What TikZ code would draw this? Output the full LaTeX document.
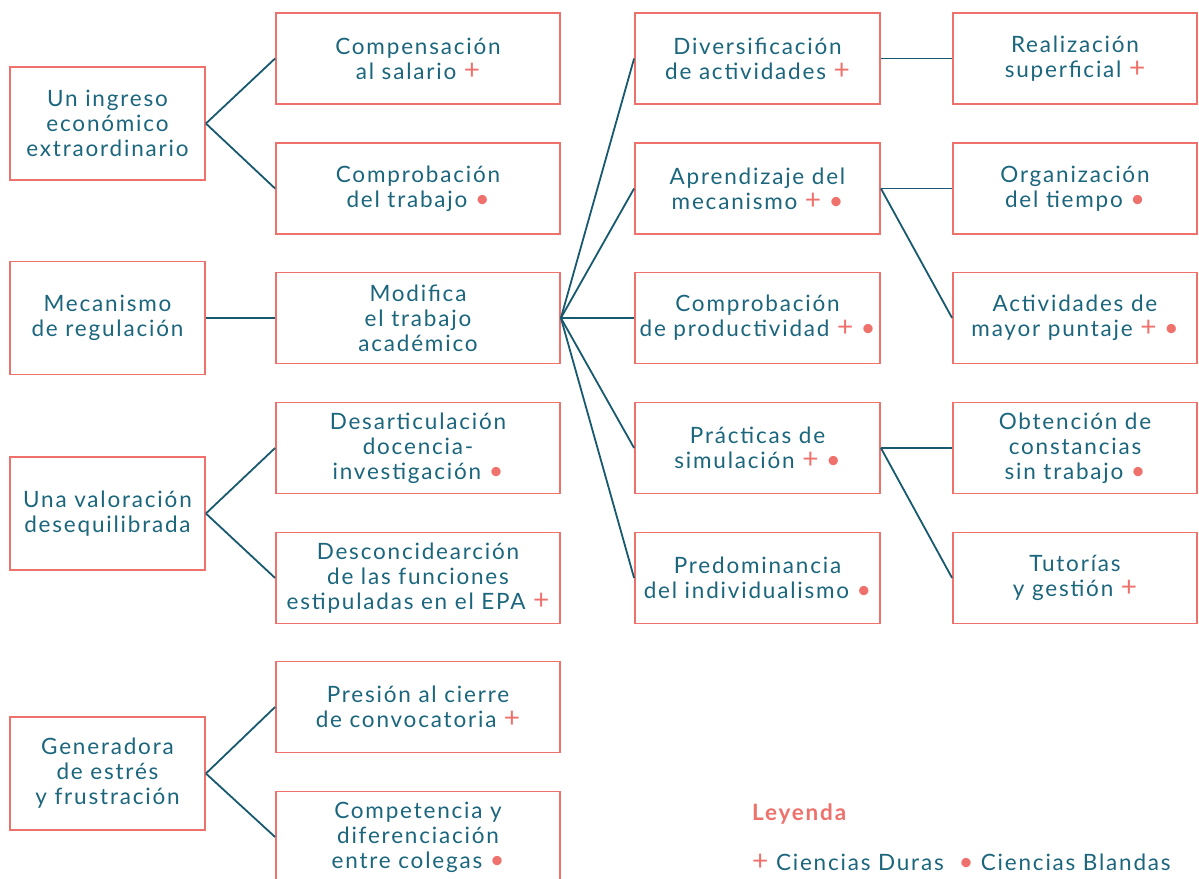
\documentclass[tikz,border=0pt]{standalone}
\usepackage{fontspec}
\setmainfont{Lato}[LetterSpace=8]
\definecolor{boxred}{HTML}{EE716C}
\definecolor{tealtxt}{HTML}{1B667D}
\definecolor{teallin}{HTML}{175A70}
\newcommand{\dur}{{\color{boxred}\fontsize{28}{25}\selectfont+}}
\newcommand{\bla}{{\color{boxred}\fontsize{25}{25}\selectfont•}}
\tikzset{
  cajon/.style={draw=boxred, line width=1.8pt, inner sep=0pt, align=center,
    text=tealtxt, font=\fontsize{22.5}{25}\selectfont, minimum height=91pt},
  izq/.style={cajon, minimum width=195pt, minimum height=113pt},
  col2/.style={cajon, minimum width=284pt},
  col3/.style={cajon, minimum width=245pt},
  col4/.style={cajon, minimum width=244pt},
  enlace/.style={draw=teallin, line width=1.8pt}
}
\begin{document}
\begin{tikzpicture}[x=1pt,y=-1pt]
        \useasboundingbox (0,0) rectangle (1199,878);
        \clip (0,0) rectangle (1199,878);

        % left column
        \node[izq] (ingreso) at (107.5,123.5) {Un ingreso\\económico\\extraordinario};
        \node[izq] (mecanismo) at (107.5,318) {Mecanismo\\de regulación};
        \node[izq] (valoracion) at (107.5,513.5) {Una valoración\\desequilibrada};
        \node[izq] (estres) at (107.5,773.5) {Generadora\\de estrés\\y frustración};

        % second column
        \node[col2] (compensa) at (418,58.5) {Compensación\\al salario \dur};
        \node[col2] (comprueba) at (418,188.5) {Comprobación\\del trabajo \bla};
        \node[col2] (modifica) at (418,318) {Modifica\\el trabajo\\académico};
        \node[col2] (desartic) at (418,448) {Desarticulación\\docencia-\\investigación \bla};
        \node[col2] (desconc) at (418,578) {Desconcidearción\\de las funciones\\estipuladas en el EPA \dur};
        \node[col2] (presion) at (418,707) {Presión al cierre\\de convocatoria \dur};
        \node[col2] (competencia) at (418,837) {Competencia y\\diferenciación\\entre colegas \bla};

        % third column
        \node[col3] (diversi) at (757.5,58.5) {Diversificación\\de actividades \dur};
        \node[col3] (aprende) at (757.5,188.5) {Aprendizaje del\\mecanismo \dur{} \bla};
        \node[col3] (producti) at (757.5,318) {Comprobación\\de productividad \dur{} \bla};
        \node[col3] (simula) at (757.5,448) {Prácticas de\\simulación \dur{} \bla};
        \node[col3] (individ) at (757.5,578) {Predominancia\\del individualismo \bla};

        % fourth column
        \node[col4] (superfi) at (1075,58.5) {Realización\\superficial \dur};
        \node[col4] (tiempo) at (1075,188.5) {Organización\\del tiempo \bla};
        \node[col4] (puntaje) at (1075,318) {Actividades de\\mayor puntaje \dur{} \bla};
        \node[col4] (constan) at (1075,448) {Obtención de\\constancias\\sin trabajo \bla};
        \node[col4] (tutoria) at (1075,578) {Tutorías\\y gestión \dur};

        % connectors
        \draw[enlace] (ingreso.east) -- (compensa.west);
        \draw[enlace] (ingreso.east) -- (comprueba.west);
        \draw[enlace] (mecanismo.east) -- (modifica.west);
        \draw[enlace] (valoracion.east) -- (desartic.west);
        \draw[enlace] (valoracion.east) -- (desconc.west);
        \draw[enlace] (estres.east) -- (presion.west);
        \draw[enlace] (estres.east) -- (competencia.west);
        \foreach \t in {diversi,aprende,producti,simula,individ}
          \draw[enlace] (modifica.east) -- (\t.west);
        \draw[enlace] (diversi.east) -- (superfi.west);
        \draw[enlace] (aprende.east) -- (tiempo.west);
        \draw[enlace] (aprende.east) -- (puntaje.west);
        \draw[enlace] (simula.east) -- (constan.west);
        \draw[enlace] (simula.east) -- (tutoria.west);

        % legend
        \node[anchor=base west, inner sep=0pt, text=boxred, font=\fontsize{22.5}{25}\selectfont\bfseries] (leyenda) at (752,820) {Leyenda};
        \node[anchor=base west, inner sep=0pt, text=tealtxt, font=\fontsize{22.5}{25}\selectfont] (claves) at (752,870) {\dur\ Ciencias Duras \ \bla\ Ciencias Blandas};
    \end{tikzpicture}
\end{document}
